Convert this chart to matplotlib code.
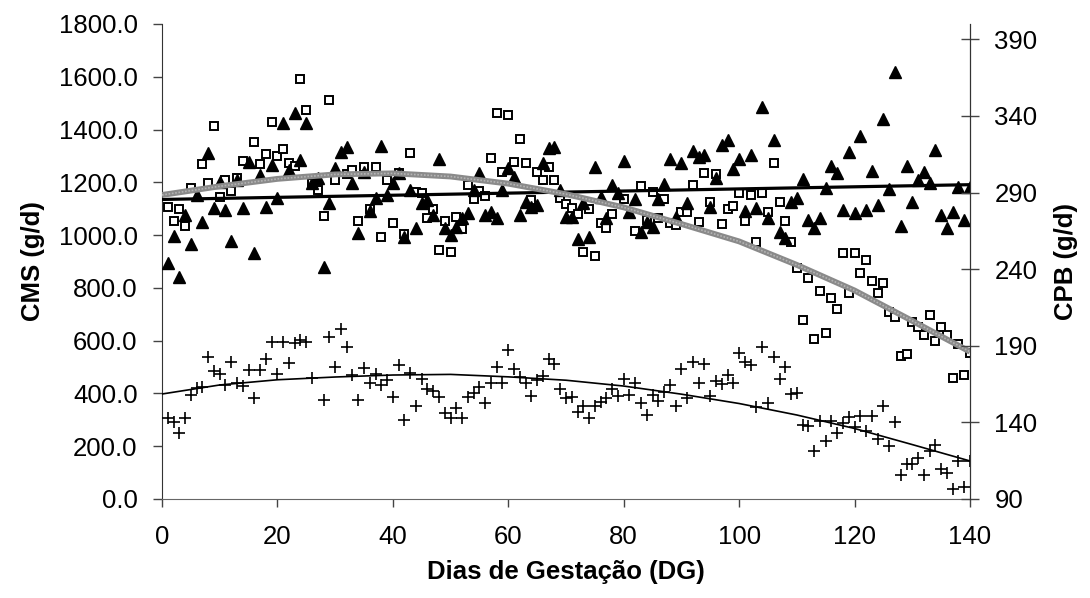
import matplotlib.pyplot as plt
import matplotlib.ticker as mticker

plt.rcParams['font.family'] = ['Liberation Sans', 'DejaVu Sans']

# CMS (g/d), filled triangles, day 1..140
tri_days = list(range(1, 141))
tri_vals = [894, 997, 842, 1076, 966, 1152, 1049, 1311, 1102, 1201,
            1095, 978, 1209, 1102, 1277, 933, 1228, 1107, 1266, 1140,
            1426, 1247, 1464, 1285, 1426, 1198, 1216, 879, 1121, 1255,
            1316, 1335, 1198, 1008, 1240, 1092, 1140, 1337, 1152, 1196,
            1234, 994, 1171, 1026, 1120, 1133, 1076, 1287, 1026, 1000,
            1032, 1063, 1082, 1171, 1234, 1076, 1089, 1063, 1171, 1253,
            1221, 1076, 1127, 1107, 1114, 1272, 1329, 1335, 1171, 1070,
            1070, 984, 1120, 992, 1259, 1145, 1063, 1190, 1158, 1281,
            1089, 1135, 1010, 1051, 1032, 1135, 1192, 1287, 1070, 1274,
            1120, 1319, 1297, 1303, 1107, 1215, 1341, 1360, 1249, 1287,
            1092, 1303, 1101, 1484, 1063, 1360, 1010, 988, 1127, 1139,
            1211, 1057, 1026, 1063, 1180, 1263, 1234, 1095, 1316, 1082,
            1375, 1095, 1243, 1114, 1439, 1173, 1619, 1034, 1263, 1127,
            1209, 1240, 1198, 1322, 1076, 1026, 1089, 1183, 1057, 1183]

# second CMS series, open squares
sq_days = [1, 2, 3, 4, 5, 7, 8, 9, 10, 11, 12, 13, 14, 16, 17, 18, 19, 20,
           21, 22, 23, 24, 25, 26, 27, 28, 29, 30, 32, 33, 34, 35, 36, 37,
           38, 39, 40, 41, 42, 43, 44, 45, 46, 47, 48, 49, 50, 51, 52, 53,
           54, 55, 56, 57, 58, 59, 60, 61, 62, 63, 64, 65, 66, 67, 68, 69,
           70, 71, 72, 73, 74, 75, 76, 77, 78, 80, 82, 83, 84, 85, 86, 87,
           88, 89, 90, 91, 92, 93, 94, 95, 96, 97, 98, 99, 100, 101, 102,
           103, 104, 105, 106, 107, 108, 109, 110, 111, 112, 113, 114, 115,
           116, 117, 118, 119, 120, 121, 122, 123, 124, 125, 126, 127, 128,
           129, 130, 131, 132, 133, 134, 135, 136, 137, 138, 139, 140]
sq_vals = [1105, 1053, 1099, 1034, 1177, 1268, 1199, 1414, 1145, 1209,
           1168, 1217, 1280, 1352, 1268, 1306, 1428, 1300, 1325, 1274,
           1262, 1590, 1474, 1196, 1171, 1072, 1512, 1209, 1230, 1247,
           1053, 1259, 1098, 1259, 994, 1209, 1047, 1234, 1003, 1312,
           1164, 1158, 1066, 1098, 944, 1053, 937, 1067, 1022, 1190,
           1135, 1168, 1149, 1293, 1461, 1240, 1455, 1278, 1364, 1274,
           1133, 1240, 1209, 1259, 1209, 1139, 1118, 1101, 1079, 937,
           1098, 922, 1047, 1028, 1079, 1135, 1017, 1186, 1057, 1162,
           1063, 1137, 1045, 1038, 1089, 1089, 1190, 1048, 1234, 1124,
           1230, 1041, 1099, 1111, 1161, 1053, 1152, 975, 1161, 1089,
           1274, 1127, 1053, 975, 874, 678, 836, 606, 789, 628,
           763, 719, 931, 782, 931, 858, 906, 826, 782, 820,
           710, 691, 542, 548, 672, 653, 621, 697, 600, 653,
           621, 457, 587, 470, 554]

# CPB (g/d), plus signs, right axis
plus_days = [1, 2, 3, 4, 5, 6, 7, 8, 9, 10, 11, 12, 13, 14, 15, 16, 17, 18,
             19, 20, 21, 22, 23, 24, 25, 26, 28, 29, 30, 31, 32, 33, 34, 35,
             36, 37, 38, 39, 40, 41, 42, 43, 44, 45, 46, 47, 48, 49, 50, 51,
             52, 53, 54, 55, 56, 57, 58, 59, 60, 61, 62, 63, 64, 65, 66, 67,
             68, 69, 70, 71, 72, 73, 74, 75, 76, 77, 78, 79, 80, 81, 82, 83,
             84, 85, 86, 87, 88, 89, 90, 91, 92, 93, 94, 95, 96, 97, 98, 99,
             100, 101, 102, 103, 104, 105, 106, 107, 108, 109, 110, 111, 112,
             113, 114, 115, 116, 117, 118, 119, 120, 121, 122, 123, 124, 125,
             126, 127, 128, 129, 130, 131, 132, 133, 134, 135, 136, 137, 138,
             139, 140]
plus_vals = [142.7, 140.5, 133.2, 142.7, 157.9, 162.2, 162.8, 182.5, 173.7, 171.6,
             164.4, 179.6, 166.0, 163.7, 174.2, 156.1, 174.2, 181.1, 192.6, 171.6,
             192.6, 178.5, 191.6, 193.7, 192.6, 168.7, 154.9, 195.9, 175.9, 200.7,
             189.0, 170.9, 154.9, 175.6, 165.4, 171.6, 164.4, 167.7, 156.3, 177.5,
             141.5, 172.0, 150.6, 168.4, 161.8, 160.6, 156.3, 146.0, 142.7, 149.2,
             142.7, 156.3, 158.9, 162.8, 152.5, 166.0, 175.9, 166.0, 187.3, 174.9,
             169.4, 166.0, 157.2, 167.7, 170.3, 181.1, 178.2, 161.8, 155.6, 156.3,
             147.0, 150.6, 142.7, 150.6, 153.6, 155.6, 161.6, 157.2, 168.4, 157.9,
             166.0, 152.5, 144.8, 157.9, 154.1, 160.1, 164.4, 150.6, 174.6, 155.6,
             179.6, 166.0, 178.2, 157.2, 167.2, 165.1, 170.9, 166.0, 185.1, 179.6,
             177.5, 149.8, 189.4, 152.9, 182.8, 168.4, 175.9, 158.5, 159.4, 138.2,
             137.7, 121.3, 141.0, 127.9, 141.0, 132.9, 139.4, 143.7, 137.2, 144.1,
             134.6, 144.1, 128.9, 150.6, 124.8, 140.5, 105.7, 112.6, 112.6, 116.5,
             105.7, 121.5, 125.3, 109.6, 107.2, 96.5, 114.8, 98.1, 114.8]

# trend lines
trend_days = [0, 10, 20, 30, 40, 50, 60, 70, 80, 90, 100, 110, 120, 130, 140]
tri_trend = [1135, 1139, 1143, 1147, 1151, 1155, 1159, 1163, 1167, 1171,
             1175, 1179, 1183, 1187, 1191]
sq_trend = [1152, 1185, 1213, 1230, 1234, 1222, 1195, 1155, 1105, 1042,
            976, 887, 790, 675, 558]
plus_trend = [158.5, 164.4, 167.8, 169.6, 170.9, 171.3, 169.7, 167.5, 163.7,
              158.4, 152.3, 144.8, 136.0, 125.5, 114.8]

fig = plt.figure(figsize=(10.9, 5.98), dpi=100)
ax = fig.add_axes([0.1486, 0.1656, 0.7413, 0.7943])
ax2 = ax.twinx()

ax.plot(sq_days, sq_vals, linestyle='none', marker='s', markersize=6.2,
        markerfacecolor='white', markeredgecolor='black', markeredgewidth=1.4, zorder=2)
ax.plot(tri_days, tri_vals, linestyle='none', marker='^', markersize=8.5,
        color='black', zorder=3)
ax.plot(trend_days, tri_trend, color='black', lw=2.3, zorder=4)
ax.plot(trend_days, sq_trend, color='#8a8a8a', lw=4.2, zorder=4,
        solid_capstyle='butt')
ax.plot(trend_days, sq_trend, color='#b4b4b4', lw=1.2, ls=(0, (1, 1)), zorder=5)

ax2.plot(plus_days, plus_vals, linestyle='none', marker='+', markersize=9,
         markeredgewidth=1.2, color='black')
ax2.plot(trend_days, plus_trend, color='black', lw=1.2)

ax.set_xlim(0, 140)
ax.set_ylim(0, 1800)
ax2.set_ylim(90, 400)
ax.set_xticks([0, 20, 40, 60, 80, 100, 120, 140])
ax.set_yticks([0, 200, 400, 600, 800, 1000, 1200, 1400, 1600, 1800])
ax2.set_yticks([90, 140, 190, 240, 290, 340, 390])
ax.yaxis.set_major_formatter(mticker.FormatStrFormatter('%.1f'))

for a in (ax, ax2):
    a.spines['top'].set_visible(False)
ax.spines['left'].set_color('#333333')
ax.spines['bottom'].set_color('#666666')
ax2.spines['left'].set_visible(False)
ax2.spines['bottom'].set_visible(False)
ax2.spines['right'].set_color('#333333')

ax.tick_params(axis='y', labelsize=18.5, length=6.5, width=1, color='#444444', pad=11)
ax.tick_params(axis='x', labelsize=18.5, length=6, width=1, color='#444444', pad=13)
ax2.tick_params(axis='y', labelsize=18.5, direction='inout', length=13, width=1,
                color='#444444', pad=11)

ax.set_xlabel('Dias de Gestação (DG)', fontsize=18.5, fontweight='bold', labelpad=8)
ax.set_ylabel('CMS (g/d)', fontsize=18.5, fontweight='bold', labelpad=10)
ax2.set_ylabel('CPB (g/d)', fontsize=18.5, fontweight='bold', labelpad=12)

fig.savefig('out.png', dpi=100)
